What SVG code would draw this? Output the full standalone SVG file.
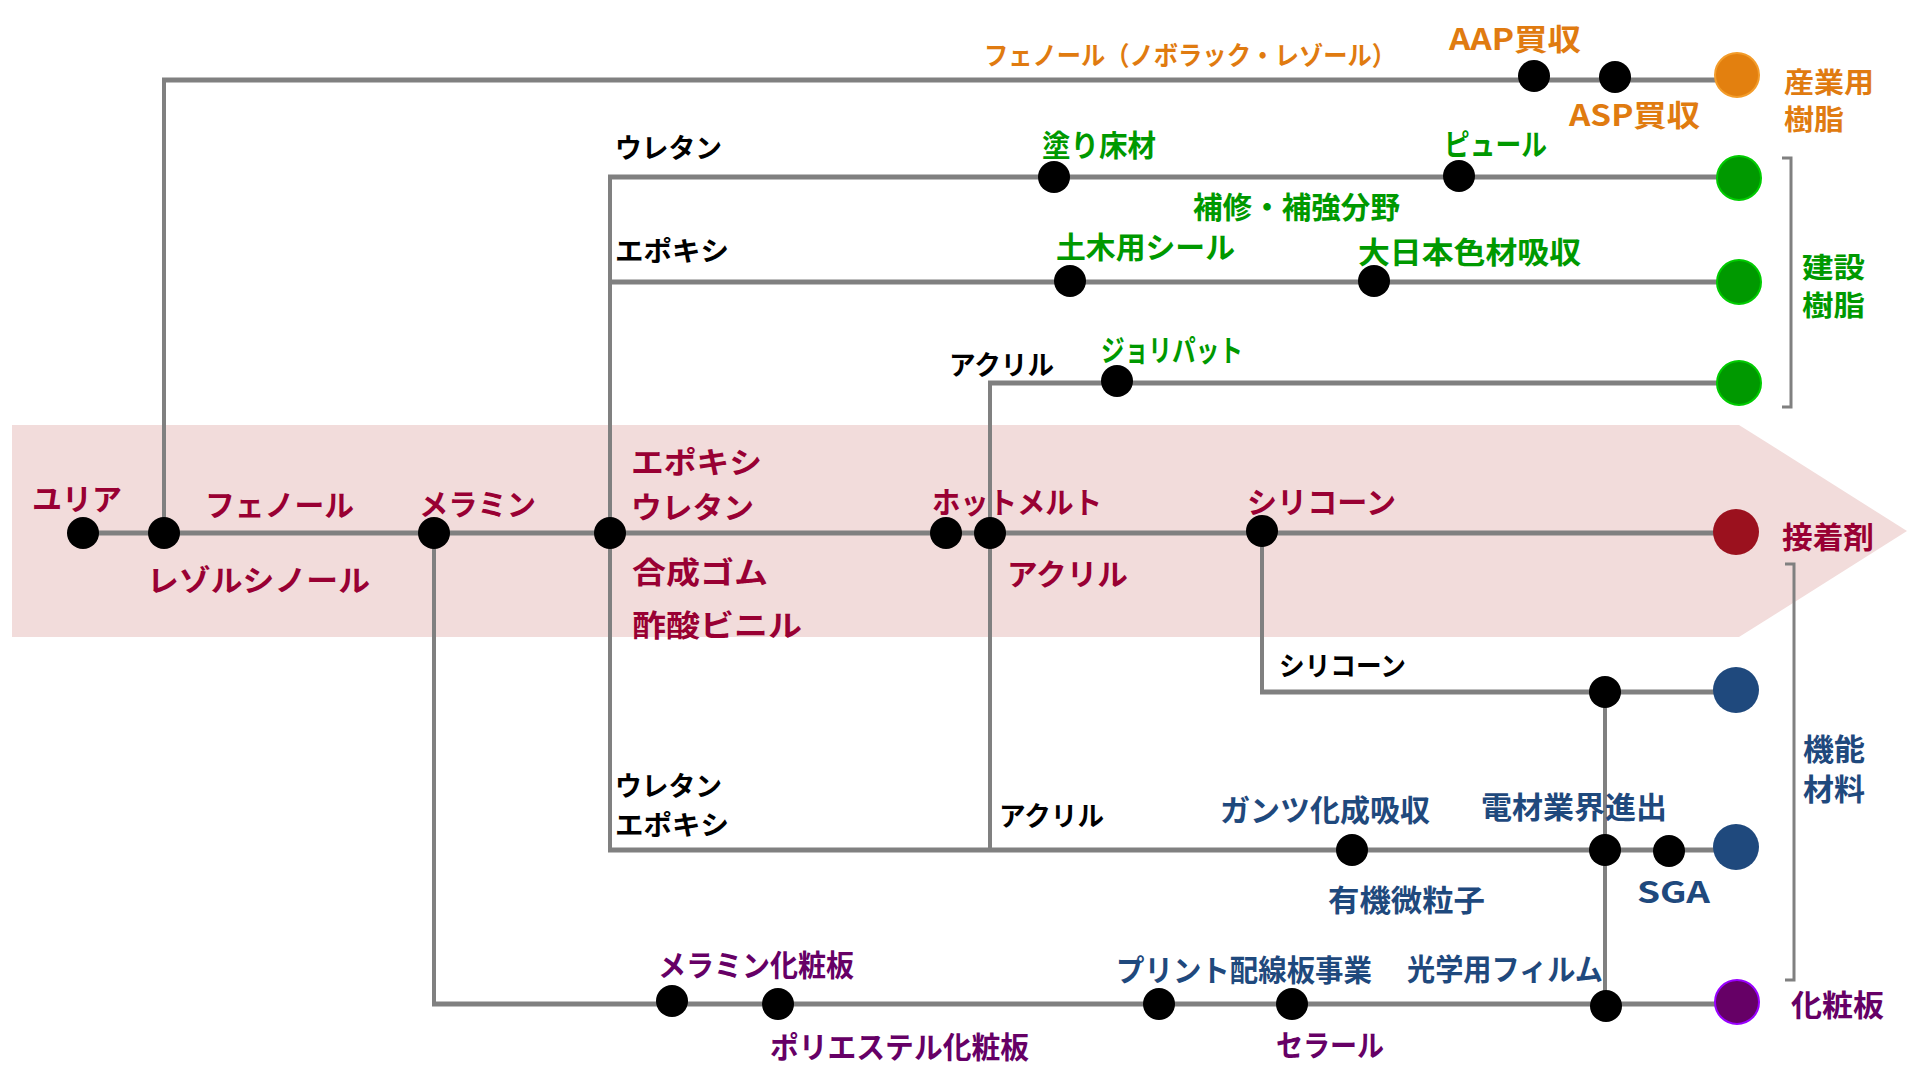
<svg xmlns="http://www.w3.org/2000/svg" width="1907" height="1067" viewBox="0 0 1907 1067">
<style>
text{font-family:"Noto Sans CJK JP","Noto Sans",sans-serif;font-weight:bold;font-size:30px}
.ln{fill:none;stroke:#808080;stroke-width:5}
.vl{fill:none;stroke:#808080;stroke-width:4}
.br{fill:none;stroke:#808080;stroke-width:3}
.d{fill:#000}
.red{fill:#990033}
.org{fill:#e07b10}
.grn{fill:#009900}
.blk{fill:#000;font-size:27px}
.blu{fill:#1f497d}
.pur{fill:#660066}
.stk{font-size:28px}
</style>
<rect width="1907" height="1067" fill="#fff"/>
<polygon id="band" points="12,425 1739,425 1907,531 1739,637 12,637" fill="#f2dcdb"/>
<g id="connectors">
<path class="ln" d="M83,533 H1736"/>
<path class="vl" d="M164,533 V80"/><path class="ln" d="M162,80 H1737"/>
<path class="vl" d="M610,177 V850"/>
<path class="ln" d="M608,177 H1738"/>
<path class="ln" d="M610,282 H1738"/>
<path class="ln" d="M608,850 H1736"/>
<path class="vl" d="M990,383 V850"/>
<path class="ln" d="M988,383 H1738"/>
<path class="vl" d="M1262,533 V692"/>
<path class="ln" d="M1260,692 H1736"/>
<path class="vl" d="M1605,692 V1006"/>
<path class="vl" d="M434,533 V1004"/>
<path class="ln" d="M432,1004 H1737"/>
<path class="br" d="M1782,158 H1791 V407 H1782"/>
<path class="br" d="M1785,564 H1794 V980 H1785"/>
</g>
<g id="dots">
<circle class="d" cx="83" cy="533" r="16"/>
<circle class="d" cx="164" cy="533" r="16"/>
<circle class="d" cx="434" cy="533" r="16"/>
<circle class="d" cx="610" cy="533" r="16"/>
<circle class="d" cx="946" cy="533" r="16"/>
<circle class="d" cx="990" cy="533" r="16"/>
<circle class="d" cx="1262" cy="531" r="16"/>
<circle class="d" cx="1534" cy="76" r="16"/>
<circle class="d" cx="1615" cy="77" r="16"/>
<circle class="d" cx="1054" cy="177" r="16"/>
<circle class="d" cx="1459" cy="176" r="16"/>
<circle class="d" cx="1070" cy="281" r="16"/>
<circle class="d" cx="1374" cy="281" r="16"/>
<circle class="d" cx="1117" cy="381" r="16"/>
<circle class="d" cx="1605" cy="692" r="16"/>
<circle class="d" cx="1352" cy="850" r="16"/>
<circle class="d" cx="1605" cy="850" r="16"/>
<circle class="d" cx="1669" cy="851" r="16"/>
<circle class="d" cx="672" cy="1001" r="16"/>
<circle class="d" cx="778" cy="1004" r="16"/>
<circle class="d" cx="1159" cy="1004" r="16"/>
<circle class="d" cx="1292" cy="1004" r="16"/>
<circle class="d" cx="1606" cy="1006" r="16"/>
</g>
<g id="end-industrial"><circle cx="1737" cy="75" r="22" fill="#e3800f" stroke="#f39c2a" stroke-width="2"/>
<text class="org stk" x="1784" y="93" textLength="90" lengthAdjust="spacingAndGlyphs">産業用</text>
<text class="org stk" x="1784" y="130" textLength="60" lengthAdjust="spacingAndGlyphs">樹脂</text></g>
<g id="end-construction">
<circle cx="1739" cy="178" r="22" fill="#009900" stroke="#00cc00" stroke-width="2"/>
<circle cx="1739" cy="282" r="22" fill="#009900" stroke="#00cc00" stroke-width="2"/>
<circle cx="1739" cy="383" r="22" fill="#009900" stroke="#00cc00" stroke-width="2"/>
<text class="grn stk" x="1802" y="278" textLength="63" lengthAdjust="spacingAndGlyphs">建設</text>
<text class="grn stk" x="1802" y="316" textLength="63" lengthAdjust="spacingAndGlyphs">樹脂</text></g>
<g id="end-adhesive"><circle cx="1736" cy="532" r="23" fill="#9b111e"/>
<text class="red" x="1782" y="548" textLength="92" lengthAdjust="spacingAndGlyphs">接着剤</text></g>
<g id="end-functional">
<circle cx="1736" cy="690" r="23" fill="#1f497d"/>
<circle cx="1736" cy="847" r="23" fill="#1f497d"/>
<text class="blu" x="1803" y="760" textLength="62" lengthAdjust="spacingAndGlyphs">機能</text>
<text class="blu" x="1803" y="800" textLength="62" lengthAdjust="spacingAndGlyphs">材料</text></g>
<g id="end-decorative"><circle cx="1737" cy="1002" r="22" fill="#660066" stroke="#9900ff" stroke-width="2"/>
<text class="pur" x="1791" y="1016" textLength="93" lengthAdjust="spacingAndGlyphs">化粧板</text></g>
<g id="labels-orange">
<text class="org" x="984" y="65" style="font-size:26px" textLength="412" lengthAdjust="spacingAndGlyphs">フェノール（ノボラック・レゾール）</text>
<text class="org" x="1449" y="50" textLength="132" lengthAdjust="spacingAndGlyphs">AAP買収</text>
<text class="org" x="1569" y="126" textLength="131" lengthAdjust="spacingAndGlyphs">ASP買収</text>
</g>
<g id="labels-green">
<text class="grn" x="1042" y="156" textLength="114" lengthAdjust="spacingAndGlyphs">塗り床材</text>
<text class="grn" x="1444" y="155" textLength="103" lengthAdjust="spacingAndGlyphs">ピュール</text>
<text class="grn" x="1193" y="218" textLength="207" lengthAdjust="spacingAndGlyphs">補修・補強分野</text>
<text class="grn" x="1056" y="258" textLength="179" lengthAdjust="spacingAndGlyphs">土木用シール</text>
<text class="grn" x="1358" y="263" textLength="223" lengthAdjust="spacingAndGlyphs">大日本色材吸収</text>
<text class="grn" x="1101" y="361" textLength="142" lengthAdjust="spacingAndGlyphs">ジョリパット</text>
</g>
<g id="labels-black">
<text class="blk" x="615" y="158" textLength="107" lengthAdjust="spacingAndGlyphs">ウレタン</text>
<text class="blk" x="615" y="261" textLength="114" lengthAdjust="spacingAndGlyphs">エポキシ</text>
<text class="blk" x="949" y="375" textLength="105" lengthAdjust="spacingAndGlyphs">アクリル</text>
<text class="blk" x="1279" y="676" textLength="127" lengthAdjust="spacingAndGlyphs">シリコーン</text>
<text class="blk" x="615" y="796" textLength="107" lengthAdjust="spacingAndGlyphs">ウレタン</text>
<text class="blk" x="615" y="835" textLength="114" lengthAdjust="spacingAndGlyphs">エポキシ</text>
<text class="blk" x="999" y="826" textLength="105" lengthAdjust="spacingAndGlyphs">アクリル</text>
</g>
<g id="labels-red">
<text class="red" x="32" y="510" textLength="90" lengthAdjust="spacingAndGlyphs">ユリア</text>
<text class="red" x="205" y="516" textLength="149" lengthAdjust="spacingAndGlyphs">フェノール</text>
<text class="red" x="147" y="591" textLength="223" lengthAdjust="spacingAndGlyphs">レゾルシノール</text>
<text class="red" x="419" y="515" textLength="117" lengthAdjust="spacingAndGlyphs">メラミン</text>
<text class="red" x="631" y="473" textLength="131" lengthAdjust="spacingAndGlyphs">エポキシ</text>
<text class="red" x="631" y="518" textLength="123" lengthAdjust="spacingAndGlyphs">ウレタン</text>
<text class="red" x="632" y="583" textLength="136" lengthAdjust="spacingAndGlyphs">合成ゴム</text>
<text class="red" x="632" y="636" textLength="170" lengthAdjust="spacingAndGlyphs">酢酸ビニル</text>
<text class="red" x="932" y="513" textLength="170" lengthAdjust="spacingAndGlyphs">ホットメルト</text>
<text class="red" x="1007" y="585" textLength="121" lengthAdjust="spacingAndGlyphs">アクリル</text>
<text class="red" x="1247" y="513" textLength="149" lengthAdjust="spacingAndGlyphs">シリコーン</text>
</g>
<g id="labels-blue">
<text class="blu" x="1220" y="821" textLength="210" lengthAdjust="spacingAndGlyphs">ガンツ化成吸収</text>
<text class="blu" x="1481" y="818" textLength="186" lengthAdjust="spacingAndGlyphs">電材業界進出</text>
<text class="blu" x="1328" y="911" textLength="157" lengthAdjust="spacingAndGlyphs">有機微粒子</text>
<text class="blu" x="1637" y="903" textLength="73" lengthAdjust="spacingAndGlyphs">SGA</text>
<text class="blu" x="1116" y="981" textLength="256" lengthAdjust="spacingAndGlyphs">プリント配線板事業</text>
<text class="blu" x="1407" y="980" textLength="196" lengthAdjust="spacingAndGlyphs">光学用フィルム</text>
</g>
<g id="labels-purple">
<text class="pur" x="658" y="976" textLength="196" lengthAdjust="spacingAndGlyphs">メラミン化粧板</text>
<text class="pur" x="770" y="1058" textLength="259" lengthAdjust="spacingAndGlyphs">ポリエステル化粧板</text>
<text class="pur" x="1276" y="1056" textLength="108" lengthAdjust="spacingAndGlyphs">セラール</text>
</g>
</svg>
